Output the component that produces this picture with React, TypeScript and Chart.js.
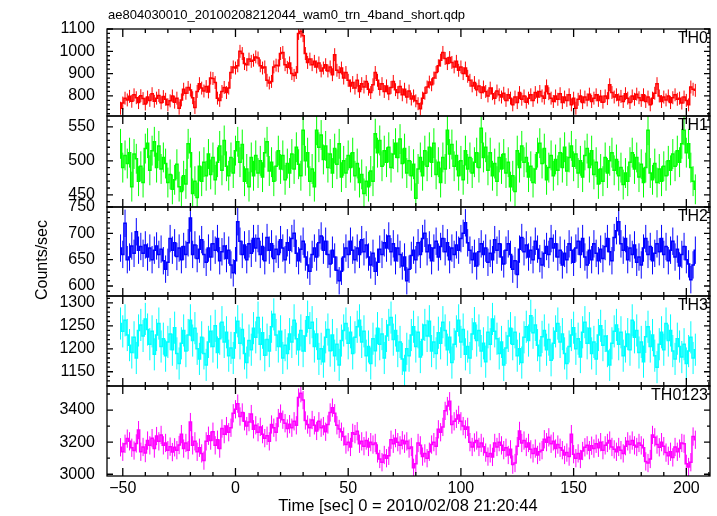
import { useEffect, useRef } from 'react';
import { Chart, registerables } from 'chart.js';

Chart.register(...registerables);

// ---- data (1 s bins, bin centres start at t = -51 s) ----
const TIME_START = -51;
const BIN_SEC = 1;

const TH0 = [
  745, 768, 790, 782, 798, 776, 805, 792, 770, 801,
  788, 764, 795, 780, 810, 776, 790, 802, 769, 797,
  785, 760, 778, 800, 772, 790, 745, 782, 830, 812,
  838, 826, 792, 748, 820, 855, 835, 822, 842, 818,
  880, 878, 860, 790, 780, 820, 838, 815, 835, 905,
  930, 925, 935, 1000, 990, 945, 940, 965, 955, 960,
  975, 970, 935, 925, 930, 870, 858, 865, 930, 938,
  935, 990, 995, 940, 928, 948, 900, 892, 905, 1080,
  1090, 1070, 990, 950, 965, 940, 955, 930, 948, 912,
  925, 940, 912, 930, 895, 985, 915, 905, 925, 880,
  905, 870, 845, 860, 835, 870, 820, 855, 840, 865,
  830, 815, 850, 905, 870, 830, 855, 820, 845, 810,
  838, 865, 828, 815, 842, 805, 830, 795, 822, 786,
  800, 778, 765, 742, 790, 812, 840, 862, 850, 880,
  905, 935, 960, 995, 968, 945, 972, 950, 930, 955,
  915, 930, 900, 925, 888, 870, 845, 860, 828, 845,
  815, 840, 820, 800, 835, 810, 790, 822, 805, 795,
  812, 780, 805, 790, 760, 795, 770, 815, 785, 800,
  772, 790, 805, 780, 815, 795, 820, 800, 790, 845,
  810, 790, 775, 800, 785, 810, 770, 795, 780, 805,
  760, 790, 745, 785, 800, 770, 795, 782, 808, 775,
  790, 805, 780, 798, 772, 800, 788, 850, 815, 795,
  805, 782, 798, 775, 810, 790, 770, 800, 785, 808,
  792, 780, 805, 775, 795, 760, 790, 812, 855, 800,
  775, 795, 782, 800, 770, 792, 805, 785, 790, 768,
  795, 780, 760, 840, 830, 825,
];

const TH1 = [
  525, 490, 508, 496, 512, 462, 510, 503, 470, 492,
  468, 518, 526, 486, 515, 528, 490, 522, 488, 505,
  496, 468, 480, 458, 472, 495, 462, 455, 478, 466,
  525, 512, 452, 470, 446, 492, 470, 498, 478, 510,
  480, 505, 472, 498, 522, 486, 530, 492, 478, 505,
  482, 515, 528, 498, 524, 470, 488, 462, 505, 478,
  508, 482, 500, 476, 512, 528, 485, 498, 470, 492,
  515, 488, 508, 472, 496, 482, 510, 488, 520, 495,
  478, 545, 500, 512, 470, 488, 462, 545, 520, 538,
  502, 522, 490, 510, 482, 518, 495, 525, 476, 500,
  482, 508, 490, 512, 478, 496, 468, 480, 452, 470,
  462, 485, 470, 540, 512, 530, 492, 515, 498, 520,
  490, 510, 526, 505, 532, 496, 518, 482, 500, 478,
  495, 445, 488, 505, 478, 515, 492, 520, 498, 526,
  480, 498, 468, 505, 488, 545, 510, 524, 492, 508,
  478, 500, 472, 515, 488, 505, 482, 498, 512, 490,
  548, 505, 520, 486, 512, 478, 496, 470, 505, 488,
  510, 482, 498, 462, 478, 455, 515, 490, 522, 498,
  505, 476, 492, 468, 488, 512, 526, 496, 518, 472,
  490, 508, 478, 502, 486, 512, 490, 520, 485, 505,
  522, 492, 510, 482, 500, 476, 508, 518, 490, 515,
  480, 498, 466, 488, 470, 505, 482, 500, 512, 486,
  502, 478, 490, 465, 482, 470, 498, 512, 488, 505,
  476, 495, 468, 490, 545, 482, 472, 496, 468, 488,
  470, 492, 478, 500, 486, 510, 492, 515, 498, 525,
  545, 512, 525, 490, 470, 458,
];

const TH2 = [
  672, 660, 719, 650, 655, 676, 662, 703, 668, 675,
  662, 678, 655, 672, 650, 668, 676, 660, 670, 648,
  632, 645, 690, 668, 682, 656, 672, 650, 675, 660,
  682, 729, 660, 678, 652, 670, 688, 660, 645, 672,
  655, 680, 668, 690, 648, 665, 676, 652, 668, 640,
  625, 648, 722, 685, 660, 678, 650, 680, 662, 690,
  672, 690, 660, 675, 648, 692, 668, 680, 652, 670,
  660, 688, 672, 650, 682, 668, 690, 700, 662, 648,
  670, 685, 655, 640, 628, 660, 672, 655, 682, 695,
  668, 685, 660, 642, 668, 655, 630, 610, 628, 655,
  672, 660, 685, 668, 650, 672, 660, 688, 665, 678,
  655, 640, 662, 628, 645, 670, 660, 682, 672, 695,
  665, 680, 648, 672, 660, 638, 655, 610, 632, 658,
  668, 650, 682, 660, 690, 700, 665, 678, 648, 672,
  685, 655, 675, 690, 665, 682, 650, 672, 660, 678,
  668, 690, 700, 720, 682, 668, 650, 662, 638, 665,
  680, 660, 672, 645, 662, 650, 688, 668, 680, 655,
  642, 668, 680, 660, 632, 648, 622, 670, 692, 665,
  678, 655, 668, 650, 685, 670, 652, 640, 662, 675,
  660, 690, 672, 680, 655, 668, 640, 662, 650, 680,
  668, 645, 672, 685, 660, 690, 655, 640, 668, 650,
  680, 662, 648, 670, 652, 675, 690, 665, 648, 692,
  705, 722, 680, 668, 690, 650, 672, 660, 678, 645,
  655, 640, 672, 690, 660, 675, 648, 662, 680, 665,
  690, 660, 675, 648, 668, 685, 655, 670, 638, 660,
  675, 650, 642, 612, 640, 668,
];

const TH3 = [
  1255, 1238, 1262, 1230, 1208, 1192, 1225, 1180, 1240, 1252,
  1228, 1265, 1242, 1210, 1238, 1188, 1230, 1255, 1205, 1222,
  1185, 1215, 1232, 1198, 1246, 1190, 1168, 1212, 1240, 1195,
  1230, 1262, 1218, 1245, 1200, 1178, 1225, 1190, 1165, 1215,
  1238, 1205, 1250, 1192, 1222, 1258, 1215, 1236, 1185, 1202,
  1180, 1235, 1260, 1212, 1242, 1190, 1170, 1218, 1198, 1245,
  1225, 1268, 1210, 1235, 1186, 1220, 1195, 1248, 1275, 1230,
  1205, 1238, 1180, 1208, 1190, 1232, 1215, 1262, 1222, 1198,
  1240, 1195, 1228, 1270, 1245, 1258, 1205, 1232, 1178, 1200,
  1172, 1225, 1242, 1196, 1230, 1185, 1210, 1165, 1218, 1240,
  1255, 1212, 1236, 1190, 1225, 1248, 1262, 1215, 1238, 1185,
  1205, 1168, 1222, 1196, 1245, 1210, 1232, 1180, 1228, 1252,
  1268, 1220, 1240, 1195, 1215, 1178, 1152, 1200, 1185, 1230,
  1248, 1205, 1236, 1182, 1220, 1252, 1228, 1260, 1195, 1215,
  1190, 1235, 1212, 1258, 1240, 1198, 1225, 1170, 1210, 1238,
  1262, 1215, 1242, 1188, 1205, 1180, 1232, 1256, 1218, 1240,
  1195, 1212, 1172, 1236, 1210, 1265, 1238, 1222, 1190, 1215,
  1165, 1202, 1228, 1245, 1210, 1236, 1185, 1200, 1170, 1225,
  1248, 1218, 1272, 1235, 1252, 1208, 1185, 1226, 1240, 1198,
  1220, 1175, 1212, 1238, 1255, 1215, 1232, 1190, 1168, 1205,
  1230, 1246, 1200, 1222, 1182, 1236, 1258, 1212, 1245, 1190,
  1215, 1178, 1230, 1250, 1208, 1228, 1195, 1165, 1212, 1238,
  1252, 1210, 1236, 1185, 1205, 1232, 1198, 1262, 1225, 1240,
  1192, 1215, 1172, 1226, 1248, 1205, 1230, 1185, 1160, 1210,
  1236, 1198, 1255, 1218, 1240, 1195, 1178, 1222, 1205, 1182,
  1210, 1168, 1195, 1225, 1180, 1198,
];

const TH0123 = [
  3168, 3140, 3190, 3222, 3205, 3165, 3148, 3192, 3275, 3140,
  3170, 3132, 3210, 3180, 3225, 3160, 3238, 3205, 3245, 3180,
  3195, 3150, 3172, 3138, 3168, 3150, 3182, 3250, 3160, 3195,
  3150, 3325, 3180, 3205, 3140, 3165, 3130, 3085, 3205, 3240,
  3210, 3265, 3180, 3215, 3160, 3285, 3250, 3300, 3262, 3290,
  3380, 3405, 3440, 3360, 3385, 3330, 3300, 3325, 3375, 3280,
  3305, 3262, 3295, 3250, 3225, 3240, 3205, 3310, 3290, 3262,
  3350, 3378, 3340, 3318, 3285, 3312, 3290, 3330, 3305, 3478,
  3505, 3462, 3335, 3310, 3290, 3338, 3305, 3270, 3330, 3290,
  3300, 3265, 3310, 3385, 3415, 3380, 3305, 3282, 3265, 3235,
  3185, 3200, 3170, 3258, 3250, 3268, 3190, 3205, 3175, 3210,
  3170, 3200, 3185, 3195, 3130, 3095, 3075, 3120, 3100, 3115,
  3215, 3190, 3225, 3200, 3180, 3212, 3190, 3205, 3160, 3170,
  3040, 3065, 3195, 3180, 3110, 3130, 3100, 3140, 3185, 3200,
  3175, 3280, 3262, 3295, 3395, 3425, 3455, 3310, 3330, 3345,
  3370, 3330, 3300, 3280, 3295, 3200, 3170, 3198, 3210, 3170,
  3195, 3172, 3135, 3110, 3130, 3108, 3195, 3170, 3200, 3180,
  3150, 3165, 3120, 3155, 3060, 3070, 3175, 3270, 3195, 3210,
  3170, 3195, 3155, 3130, 3160, 3120, 3140, 3150, 3218, 3200,
  3230, 3190, 3205, 3160, 3185, 3165, 3150, 3120, 3135, 3110,
  3250, 3125, 3100, 3130, 3095, 3145, 3168, 3180, 3150, 3178,
  3160, 3190, 3165, 3200, 3150, 3180, 3195, 3210, 3170, 3155,
  3140, 3170, 3150, 3130, 3175, 3205, 3185, 3210, 3180, 3170,
  3195, 3180, 3165, 3080, 3070, 3095, 3245, 3230, 3185, 3168,
  3200, 3175, 3135, 3115, 3140, 3105, 3170, 3140, 3160, 3195,
  3190, 3065, 3045, 3075, 3235, 3215,
];

// 1-sigma errors read from the error-bar lengths
const TH0_ERR = 29;
const TH1_ERR = 22;
const TH2_ERR = 26;
const TH3_ERR = 35;
const TH0123_ERR = 57;

const PANEL_LABELS = ['TH0', 'TH1', 'TH2', 'TH3', 'TH0123'];
const TITLE = 'ae804030010_20100208212044_wam0_trn_4band_short.qdp';
const X_TITLE = 'Time [sec] 0 = 2010/02/08 21:20:44';
const Y_TITLE = 'Counts/sec';

const TIME = TH0.map((_, i) => TIME_START + i * BIN_SEC);

const FONT = '"Liberation Sans", Arial, Helvetica, sans-serif';

const PANELS = [
  { id: 'y0', label: PANEL_LABELS[0], values: TH0, err: TH0_ERR, color: '#ff0000', min: 710, max: 1100, minor: 20, major: 100, weight: 87 },
  { id: 'y1', label: PANEL_LABELS[1], values: TH1, err: TH1_ERR, color: '#00ff00', min: 432, max: 566, minor: 10, major: 50, weight: 91 },
  { id: 'y2', label: PANEL_LABELS[2], values: TH2, err: TH2_ERR, color: '#0000ff', min: 581, max: 750, minor: 10, major: 50, weight: 89 },
  { id: 'y3', label: PANEL_LABELS[3], values: TH3, err: TH3_ERR, color: '#00ffff', min: 1119, max: 1315, minor: 10, major: 50, weight: 90 },
  { id: 'y4', label: PANEL_LABELS[4], values: TH0123, err: TH0123_ERR, color: '#ff00ff', min: 2989, max: 3550, minor: 100, major: 200, weight: 90 },
];

const isMultiple = (v: number, step: number) => Math.abs(v / step - Math.round(v / step)) < 1e-6;

const decorPlugin = {
  id: 'qdpDecor',
  beforeDraw(chart: any) {
    const ctx = chart.ctx;
    ctx.save();
    ctx.fillStyle = '#ffffff';
    ctx.fillRect(0, 0, chart.width, chart.height);
    ctx.restore();
  },
  beforeDatasetsDraw(chart: any) {
    const ctx = chart.ctx;
    const xs = chart.scales.x;
    const area = chart.chartArea;
    PANELS.forEach((p) => {
      const ys = chart.scales[p.id];
      ctx.save();
      ctx.beginPath();
      ctx.rect(area.left, ys.top, area.right - area.left, ys.bottom - ys.top);
      ctx.clip();
      ctx.strokeStyle = p.color;
      ctx.lineWidth = 1;
      ctx.beginPath();
      p.values.forEach((v, i) => {
        const px = xs.getPixelForValue(TIME[i]);
        ctx.moveTo(px, ys.getPixelForValue(v - p.err));
        ctx.lineTo(px, ys.getPixelForValue(v + p.err));
      });
      ctx.stroke();
      ctx.restore();
    });
  },
  afterDraw(chart: any) {
    const ctx = chart.ctx;
    const xs = chart.scales.x;
    const area = chart.chartArea;
    const L = area.left;
    const R = area.right;
    ctx.save();
    ctx.strokeStyle = '#000';
    ctx.lineWidth = 1.3;
    PANELS.forEach((p) => {
      const ys = chart.scales[p.id];
      ctx.strokeRect(L, ys.top, R - L, ys.bottom - ys.top);
      ctx.beginPath();
      ys.ticks.forEach((t: any) => {
        const v = t.value;
        if (!isMultiple(v, p.minor)) return;
        const y = ys.getPixelForValue(v);
        const len = isMultiple(v, p.major) ? 6 : 3;
        ctx.moveTo(L, y);
        ctx.lineTo(L + len, y);
        ctx.moveTo(R, y);
        ctx.lineTo(R - len, y);
      });
      xs.ticks.forEach((t: any) => {
        const v = t.value;
        if (!isMultiple(v, 10)) return;
        const x = xs.getPixelForValue(v);
        const len = isMultiple(v, 50) ? 8 : 4;
        ctx.moveTo(x, ys.top);
        ctx.lineTo(x, ys.top + len);
        ctx.moveTo(x, ys.bottom);
        ctx.lineTo(x, ys.bottom - len);
      });
      ctx.stroke();
    });

    ctx.fillStyle = '#000';
    // title
    ctx.font = `13px ${FONT}`;
    ctx.textAlign = 'left';
    ctx.textBaseline = 'alphabetic';
    ctx.fillText(TITLE, L + 1, 19);
    // panel labels
    ctx.font = `16px ${FONT}`;
    ctx.textAlign = 'right';
    ctx.textBaseline = 'middle';
    PANELS.forEach((p) => {
      const ys = chart.scales[p.id];
      ctx.fillText(p.label, R - 2, ys.top + 9.5);
    });
    // x title
    ctx.font = `16.5px ${FONT}`;
    ctx.textAlign = 'center';
    ctx.fillText(X_TITLE, 408, 506);
    // y title
    ctx.font = `16px ${FONT}`;
    ctx.translate(43, 260);
    ctx.rotate(-Math.PI / 2);
    ctx.fillText(Y_TITLE, 0, 0);
    ctx.restore();
  },
};

export default function App() {
  const ref = useRef<HTMLCanvasElement | null>(null);

  useEffect(() => {
    document.body.style.margin = '0';
    const canvas = ref.current;
    if (!canvas) return;

    const scales: any = {
      x: {
        type: 'linear',
        position: 'bottom',
        min: -57,
        max: 210.5,
        grid: { display: false, drawTicks: false },
        border: { display: false },
        ticks: {
          stepSize: 10,
          includeBounds: false,
          autoSkip: false,
          maxRotation: 0,
          padding: 3,
          color: '#000',
          font: { family: FONT, size: 16 },
          callback: (v: any) => {
            const n = Number(v);
            if (!isMultiple(n, 50)) return '';
            return n < 0 ? '\u2212' + Math.abs(n) : String(n);
          },
        },
        afterFit: (s: any) => {
          s.height = 40;
        },
      },
    };

    [...PANELS].reverse().forEach((p) => {
      scales[p.id] = {
        type: 'linear',
        position: 'left',
        stack: 'panels',
        stackWeight: p.weight,
        min: p.min,
        max: p.max,
        grid: { display: false, drawTicks: false },
        border: { display: false },
        ticks: {
          stepSize: p.minor,
          includeBounds: false,
          autoSkip: false,
          padding: 12,
          color: '#000',
          font: { family: FONT, size: 16 },
          callback: (v: any) => {
            const n = Number(v);
            return isMultiple(n, p.major) ? String(n) : '';
          },
        },
        afterFit: (s: any) => {
          s.width = 107;
        },
      };
    });

    const chart = new Chart(canvas, {
      type: 'line',
      data: {
        datasets: PANELS.map((p) => ({
          label: p.label,
          yAxisID: p.id,
          xAxisID: 'x',
          data: p.values.map((v, i) => ({ x: TIME[i], y: v })),
          borderColor: p.color,
          backgroundColor: p.color,
          borderWidth: 1.5,
          pointRadius: 0,
          stepped: 'middle' as const,
          fill: false,
        })),
      },
      options: {
        animation: false,
        responsive: false,
        devicePixelRatio: 1,
        layout: { padding: { top: 29, right: 7, left: 0, bottom: 0 } },
        plugins: {
          legend: { display: false },
          tooltip: { enabled: false },
          title: { display: false },
        },
        scales,
      },
      plugins: [decorPlugin],
    });

    return () => {
      chart.destroy();
    };
  }, []);

  return (
    <canvas
      ref={ref}
      width={717}
      height={516}
      style={{ display: 'block', width: 717, height: 516 }}
    />
  );
}
